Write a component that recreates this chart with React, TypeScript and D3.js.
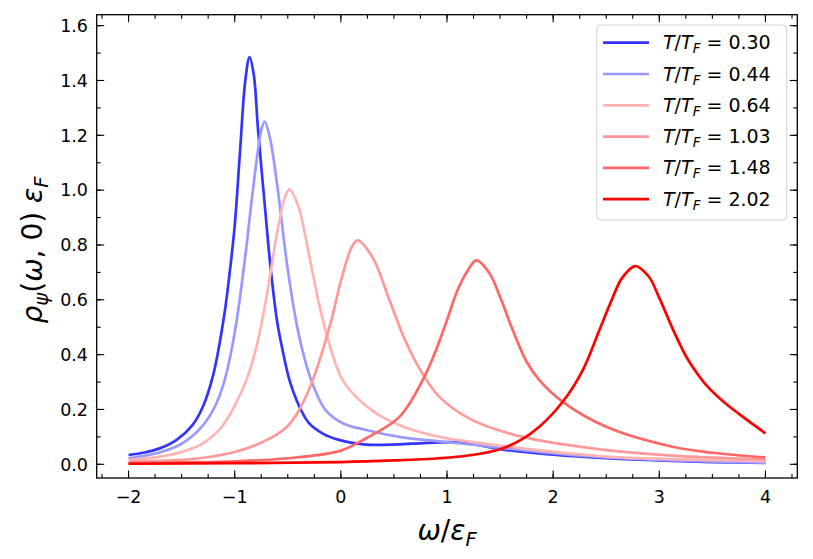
import React from 'react';
import * as d3 from 'd3';

// readings of the six curves, [omega/eF, rho*eF]
const curve030: [number, number][] = [
  [-2, 0.034], [-1.85, 0.043], [-1.7, 0.059], [-1.55, 0.088], [-1.4, 0.142], [-1.3, 0.21],
  [-1.2, 0.33], [-1.1, 0.54], [-1.05, 0.69], [-1.0, 0.87], [-0.95, 1.14], [-0.9, 1.4],
  [-0.86, 1.485], [-0.82, 1.42], [-0.78, 1.22], [-0.72, 0.96], [-0.66, 0.71], [-0.6, 0.52],
  [-0.54, 0.4], [-0.484, 0.307], [-0.39, 0.21], [-0.3, 0.15], [-0.17, 0.112], [-0.01, 0.088],
  [0.24, 0.072], [0.55, 0.073], [0.87, 0.079], [1.05, 0.081], [1.2, 0.076], [1.56, 0.052],
  [2.0, 0.035], [2.5, 0.022], [3.0, 0.014], [3.5, 0.008], [4.0, 0.005],
];
const curve044: [number, number][] = [
  [-2, 0.022], [-1.85, 0.031], [-1.7, 0.044], [-1.5, 0.075], [-1.33, 0.128], [-1.2, 0.2],
  [-1.1, 0.3], [-1.0, 0.48], [-0.9, 0.76], [-0.85, 0.93], [-0.8, 1.09], [-0.775, 1.16],
  [-0.75, 1.22], [-0.717, 1.25], [-0.668, 1.19], [-0.6, 1.02], [-0.5, 0.71], [-0.4, 0.48],
  [-0.3, 0.33], [-0.22, 0.25], [-0.138, 0.195], [0.017, 0.15], [0.238, 0.125], [0.55, 0.1],
  [0.865, 0.086], [1.18, 0.074], [1.46, 0.062], [2.0, 0.04], [2.5, 0.025], [3.0, 0.016],
  [3.5, 0.01], [4.0, 0.006],
];
const curve064: [number, number][] = [
  [-2, 0.015], [-1.7, 0.028], [-1.5, 0.045], [-1.33, 0.07], [-1.2, 0.105], [-1.1, 0.148],
  [-1.0, 0.213], [-0.89, 0.307], [-0.8, 0.42], [-0.7, 0.61], [-0.6, 0.846], [-0.53, 0.97],
  [-0.484, 1.003], [-0.4, 0.94], [-0.3, 0.765], [-0.2, 0.576], [-0.1, 0.427], [0.017, 0.307],
  [0.2, 0.225], [0.4, 0.17], [0.6, 0.135], [0.928, 0.1], [1.3, 0.078], [1.713, 0.058],
  [2.5, 0.028], [3.2, 0.018], [4.0, 0.011],
];
const curve103: [number, number][] = [
  [-2, 0.008], [-1.5, 0.016], [-1.33, 0.022], [-1.0, 0.045], [-0.7, 0.088], [-0.5, 0.14],
  [-0.39, 0.2], [-0.265, 0.307], [-0.1, 0.51], [0.0, 0.668], [0.1, 0.79], [0.156, 0.817],
  [0.3, 0.754], [0.45, 0.607], [0.6, 0.457], [0.74, 0.35], [0.928, 0.246], [1.24, 0.161],
  [1.713, 0.1], [2.5, 0.052], [3.2, 0.03], [4.0, 0.018],
];
const curve148: [number, number][] = [
  [-2, 0.004], [-1.5, 0.007], [-1.0, 0.011], [-0.5, 0.022], [0.0, 0.05], [0.238, 0.095],
  [0.552, 0.173], [0.771, 0.307], [0.9, 0.42], [1.0, 0.526], [1.1, 0.636], [1.2, 0.71],
  [1.277, 0.744], [1.4, 0.697], [1.5, 0.61], [1.62, 0.489], [1.75, 0.374], [1.87, 0.307],
  [2.09, 0.228], [2.5, 0.137], [3.125, 0.064], [3.5, 0.042], [4.0, 0.025],
];
const curve202: [number, number][] = [
  [-2, 0.002], [-1.0, 0.004], [0.0, 0.008], [0.5, 0.014], [0.928, 0.022], [1.2, 0.032],
  [1.5, 0.055], [1.7, 0.09], [1.87, 0.137], [2.09, 0.228], [2.278, 0.343], [2.435, 0.489],
  [2.55, 0.598], [2.65, 0.68], [2.774, 0.723], [2.9, 0.685], [3.0, 0.607], [3.125, 0.495],
  [3.25, 0.395], [3.35, 0.335], [3.44, 0.29], [3.6, 0.23], [3.753, 0.183], [4.0, 0.113],
];

const curves = [curve030, curve044, curve064, curve103, curve148, curve202];
const temps = ['0.30', '0.44', '0.64', '1.03', '1.48', '2.02'];
const colors = ['#3333ff', '#9999ff', '#ffb3b3', '#ff9999', '#ff6666', '#ff0000'];

const xMajor = [-2, -1, 0, 1, 2, 3, 4];
const yMajor = [0, 0.2, 0.4, 0.6, 0.8, 1.0, 1.2, 1.4, 1.6];

const W = 813;
const H = 559;
const left = 96.7, right = 797.3, top = 14.7, bottom = 478;

const fmtMinus = (s: string) => s.replace('-', '\u2212');

export default function App() {
  const x = d3.scaleLinear().domain([-2.3, 4.3]).range([left, right]);
  const y = d3.scaleLinear().domain([-0.05, 1.64]).range([bottom, top]);

  const line = d3.line<[number, number]>()
    .x(d => x(d[0]))
    .y(d => y(d[1]))
    .curve(d3.curveCatmullRom.alpha(0.5));

  const xMinor = d3.range(-9, 18).map(i => i * 0.25).filter(v => v > -2.3 && v < 4.3);
  const yMinor = d3.range(0, 17).map(i => i * 0.1);

  const font = 'DejaVu Sans, sans-serif';
  const legX = 596.7, legY = 25;

  return (
    <svg width={W} height={H} style={{ position: 'absolute', left: 0, top: 0, background: '#fff' }}
      fontFamily={font}>
      <rect x={0} y={0} width={W} height={H} fill="#fff" />
      <defs>
        <clipPath id="plot">
          <rect x={left} y={top} width={right - left} height={bottom - top} />
        </clipPath>
      </defs>

      <g clipPath="url(#plot)">
        {curves.map((c, i) => (
          <path key={i} d={line(c) || ''} fill="none" stroke={colors[i]} strokeWidth={2.7}
            strokeLinejoin="round" />
        ))}
      </g>

      {/* ticks, pointing in, on all four sides */}
      <g stroke="#000" strokeWidth={1.1}>
        {xMinor.map((v, i) => (
          <g key={'xm' + i}>
            <line x1={x(v)} x2={x(v)} y1={bottom} y2={bottom - 4} />
            <line x1={x(v)} x2={x(v)} y1={top} y2={top + 4} />
          </g>
        ))}
        {xMajor.map((v, i) => (
          <g key={'xM' + i}>
            <line x1={x(v)} x2={x(v)} y1={bottom} y2={bottom - 7.5} />
            <line x1={x(v)} x2={x(v)} y1={top} y2={top + 7.5} />
          </g>
        ))}
        {yMinor.map((v, i) => (
          <g key={'ym' + i}>
            <line x1={left} x2={left + 4} y1={y(v)} y2={y(v)} />
            <line x1={right} x2={right - 4} y1={y(v)} y2={y(v)} />
          </g>
        ))}
        {yMajor.map((v, i) => (
          <g key={'yM' + i}>
            <line x1={left} x2={left + 7.5} y1={y(v)} y2={y(v)} />
            <line x1={right} x2={right - 7.5} y1={y(v)} y2={y(v)} />
          </g>
        ))}
      </g>

      <rect x={left} y={top} width={right - left} height={bottom - top} fill="none" stroke="#000" strokeWidth={1.3} />

      <g fontSize={17.5} fill="#000">
        {xMajor.map((v, i) => (
          <text key={'xt' + i} x={x(v)} y={503} textAnchor="middle">{fmtMinus(String(v))}</text>
        ))}
        {yMajor.map((v, i) => (
          <text key={'yt' + i} x={88} y={y(v)} dy="0.36em" textAnchor="end">{v.toFixed(1)}</text>
        ))}
      </g>

      {/* axis labels */}
      <text x={447} y={540} textAnchor="middle" fontSize={28}>
        <tspan fontStyle="italic">ω</tspan>/<tspan fontStyle="italic">ε</tspan>
        <tspan fontStyle="italic" fontSize={19.5} dy={6}>F</tspan>
      </text>
      <text transform="translate(42,250) rotate(-90)" textAnchor="middle" fontSize={28}>
        <tspan fontStyle="italic">ρ</tspan>
        <tspan fontStyle="italic" fontSize={19.5} dy={6}>ψ</tspan>
        <tspan dy={-6}>(</tspan><tspan fontStyle="italic">ω</tspan><tspan>, 0) </tspan>
        <tspan fontStyle="italic">ε</tspan>
        <tspan fontStyle="italic" fontSize={19.5} dy={6}>F</tspan>
      </text>

      {/* legend */}
      <rect x={legX} y={legY} width={190} height={195} rx={4} fill="#fff" fillOpacity={0.8}
        stroke="#d0d0d0" strokeWidth={1} />
      {temps.map((t, i) => {
        const ly = 42.7 + i * 31.3;
        return (
          <g key={'lg' + i}>
            <line x1={603} x2={649} y1={ly} y2={ly} stroke={colors[i]} strokeWidth={2.7} />
            <text x={663} y={ly + 6.5} fontSize={19}>
              <tspan fontStyle="italic">T</tspan>/<tspan fontStyle="italic">T</tspan>
              <tspan fontStyle="italic" fontSize={13.5} dy={4}>F</tspan>
              <tspan dy={-4}> = {t}</tspan>
            </text>
          </g>
        );
      })}
    </svg>
  );
}
